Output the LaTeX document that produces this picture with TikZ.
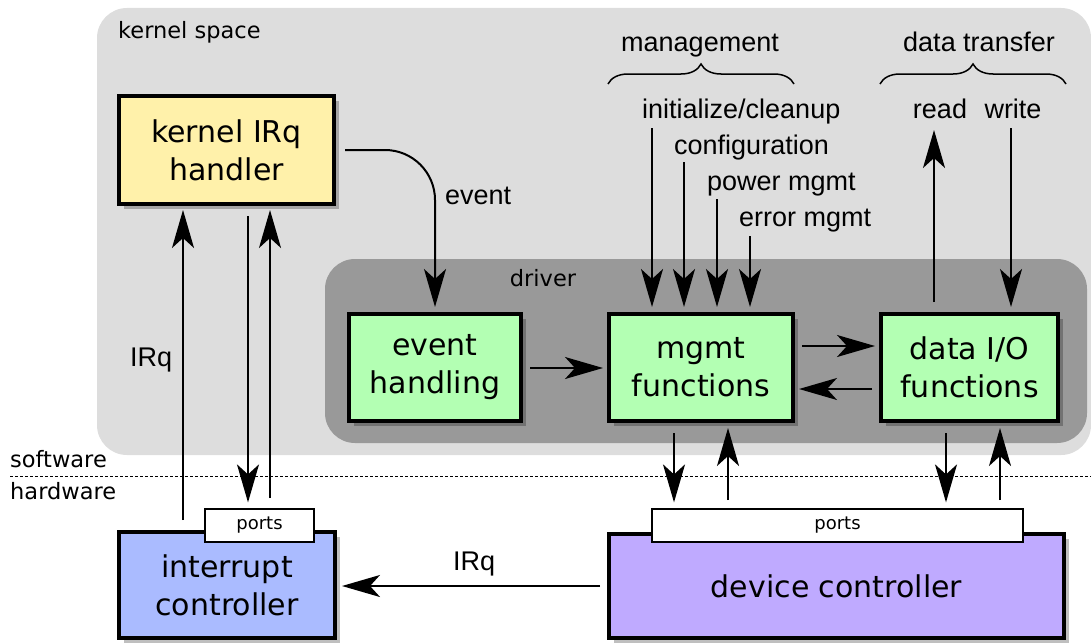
\documentclass[tikz,border=0pt]{standalone}
\usepackage{fontspec}
\setmainfont{DejaVu Sans}
\newfontfamily\lib{Liberation Sans}
\usetikzlibrary{arrows.meta,shadows,decorations.pathreplacing}
\definecolor{kgray}{HTML}{DDDDDD}
\definecolor{dgray}{HTML}{999999}
\definecolor{cyel}{HTML}{FFF1AA}
\definecolor{cgrn}{HTML}{B3FFB3}
\definecolor{cblu}{HTML}{AABBFF}
\definecolor{cpur}{HTML}{BFAAFF}
\begin{document}
\begin{tikzpicture}[x=1pt,y=-1pt,
  box/.style={draw, line width=4pt, align=center, inner sep=0pt,
    font=\fontsize{30}{38}\selectfont,
    drop shadow={shadow xshift=5pt,shadow yshift=-5pt,fill=black,opacity=0.25}},
  portbox/.style={draw, fill=white, line width=1.2pt, inner sep=0pt,
    minimum height=33pt, font=\fontsize{18}{20}\selectfont},
  arr/.style={line width=2pt, -{Stealth[length=38pt,width=22pt,inset=10pt]}},
  lbl/.style={inner sep=0pt, font=\lib\fontsize{27}{32}\selectfont},
  sm/.style={inner sep=0pt, font=\fontsize{22.5}{27}\selectfont},
  bracestyle/.style={line width=1.5pt, decorate, decoration={brace, amplitude=20pt}}
]
\useasboundingbox (0,0) rectangle (1091,642);
\clip (0,0) rectangle (1091,642);
% areas
\fill[kgray, rounded corners=30pt] (97,8) rectangle (1091,455);
\fill[dgray, rounded corners=30pt] (325,259) rectangle (1087,443);
\node[sm, anchor=base west] (ksl) at (118,39) {kernel space};
\node[sm, anchor=base] (drl) at (543,286) {driver};
% boxes
\node[box, fill=cyel, minimum width=215pt, minimum height=108pt] (kirq) at (226.5,150) {kernel IRq\\handler};
\node[box, fill=cgrn, minimum width=172pt, minimum height=107pt] (evh) at (435,367.5) {event\\handling};
\node[box, fill=cgrn, minimum width=184pt, minimum height=107pt] (mgf) at (701,367.5) {mgmt\\functions};
\node[box, fill=cgrn, minimum width=177pt, minimum height=107pt] (dio) at (969.5,367.5) {data I/O\\functions};
\node[box, fill=cblu, minimum width=216pt, minimum height=106pt] (intc) at (227,585) {interrupt\\controller};
\node[box, fill=cpur, minimum width=455pt, minimum height=104pt] (devc) at (836.5,586) {device controller};
\node[portbox, minimum width=109pt] (p1) at (259.5,525.5) {ports};
\node[portbox, minimum width=371pt] (p2) at (837.5,525.5) {ports};
% software / hardware
\node[sm, anchor=base west] (sw) at (10,467) {software};
\node[sm, anchor=base west] (hw) at (10,499) {hardware};
\coordinate (dl) at (10,476);
\coordinate (dr) at (1091,476);
\draw[line width=1pt, dash pattern=on 3pt off 2pt] (dl) -- (dr);
% labels
\node[lbl, anchor=base] (mg) at (700,52) {management};
\node[lbl, anchor=base] (dt) at (979,52) {data transfer};
\draw[bracestyle] (608,84) -- (794,84);
\draw[bracestyle] (880,84) -- (1066,84);
\node[lbl, anchor=base west] (l1) at (642,118) {initialize/cleanup};
\node[lbl, anchor=base west] (l2) at (674,154) {configuration};
\node[lbl, anchor=base west] (l3) at (707,190) {power mgmt};
\node[lbl, anchor=base west] (l4) at (739,226) {error mgmt};
\node[lbl, anchor=base] (rd) at (940,118) {read};
\node[lbl, anchor=base] (wr) at (1013,118) {write};
\node[lbl, anchor=base west] (evl) at (445,204) {event};
\node[lbl, anchor=base west] (irql) at (130,366) {IRq};
\node[lbl, anchor=base west] (irqb) at (453,570) {IRq};
% management arrows
\coordinate (a1) at (652,128);
\coordinate (a2) at (684,162);
\coordinate (a3) at (717,199);
\coordinate (a4) at (750,236);
\foreach \c in {a1,a2,a3,a4}
  \draw[arr, shorten >=5pt] (\c) -- (\c |- mgf.north);
% read / write
\coordinate (rb) at (934,302);
\coordinate (rt) at (934,130);
\draw[arr] (rb) -- (rt);
\coordinate (wt) at (1011,128);
\draw[arr, shorten >=5pt] (wt) -- (wt |- dio.north);
% event
\draw[arr, shorten >=5pt] ([xshift=9pt]kirq.east) -- (385,150)
  .. controls (412.6,150) and (435,172.4) .. (435,200) -- (evh.north);
% driver internal
\draw[arr, shorten <=7pt, shorten >=4pt] (evh.east |- 0,368) -- (mgf.west |- 0,368);
\draw[arr, shorten <=7pt, shorten >=4pt] (mgf.east |- 0,346) -- (dio.west |- 0,346);
\draw[arr, shorten <=7pt, shorten >=4pt] (dio.west |- 0,389) -- (mgf.east |- 0,389);
% to/from devices
\coordinate (m1) at (674,433);
\draw[arr, shorten >=6pt] (m1) -- (m1 |- p2.north);
\coordinate (m2) at (728,500);
\draw[arr, shorten >=5pt] (m2) -- (m2 |- mgf.south);
\coordinate (d1) at (946,433);
\draw[arr, shorten >=6pt] (d1) -- (d1 |- p2.north);
\coordinate (d2) at (1000,500);
\draw[arr, shorten >=5pt] (d2) -- (d2 |- dio.south);
% interrupt handler links
\coordinate (i1) at (183,520);
\draw[arr, shorten >=4pt] (i1) -- (i1 |- kirq.south);
\coordinate (i2) at (248,216);
\draw[arr, shorten >=6pt] (i2) -- (i2 |- p1.north);
\coordinate (i3) at (270,498);
\draw[arr, shorten >=4pt] (i3) -- (i3 |- kirq.south);
% IRq from device controller
\draw[arr, shorten <=7pt, shorten >=5pt] (devc.west) -- (intc.east |- devc.west);
\end{tikzpicture}
\end{document}
